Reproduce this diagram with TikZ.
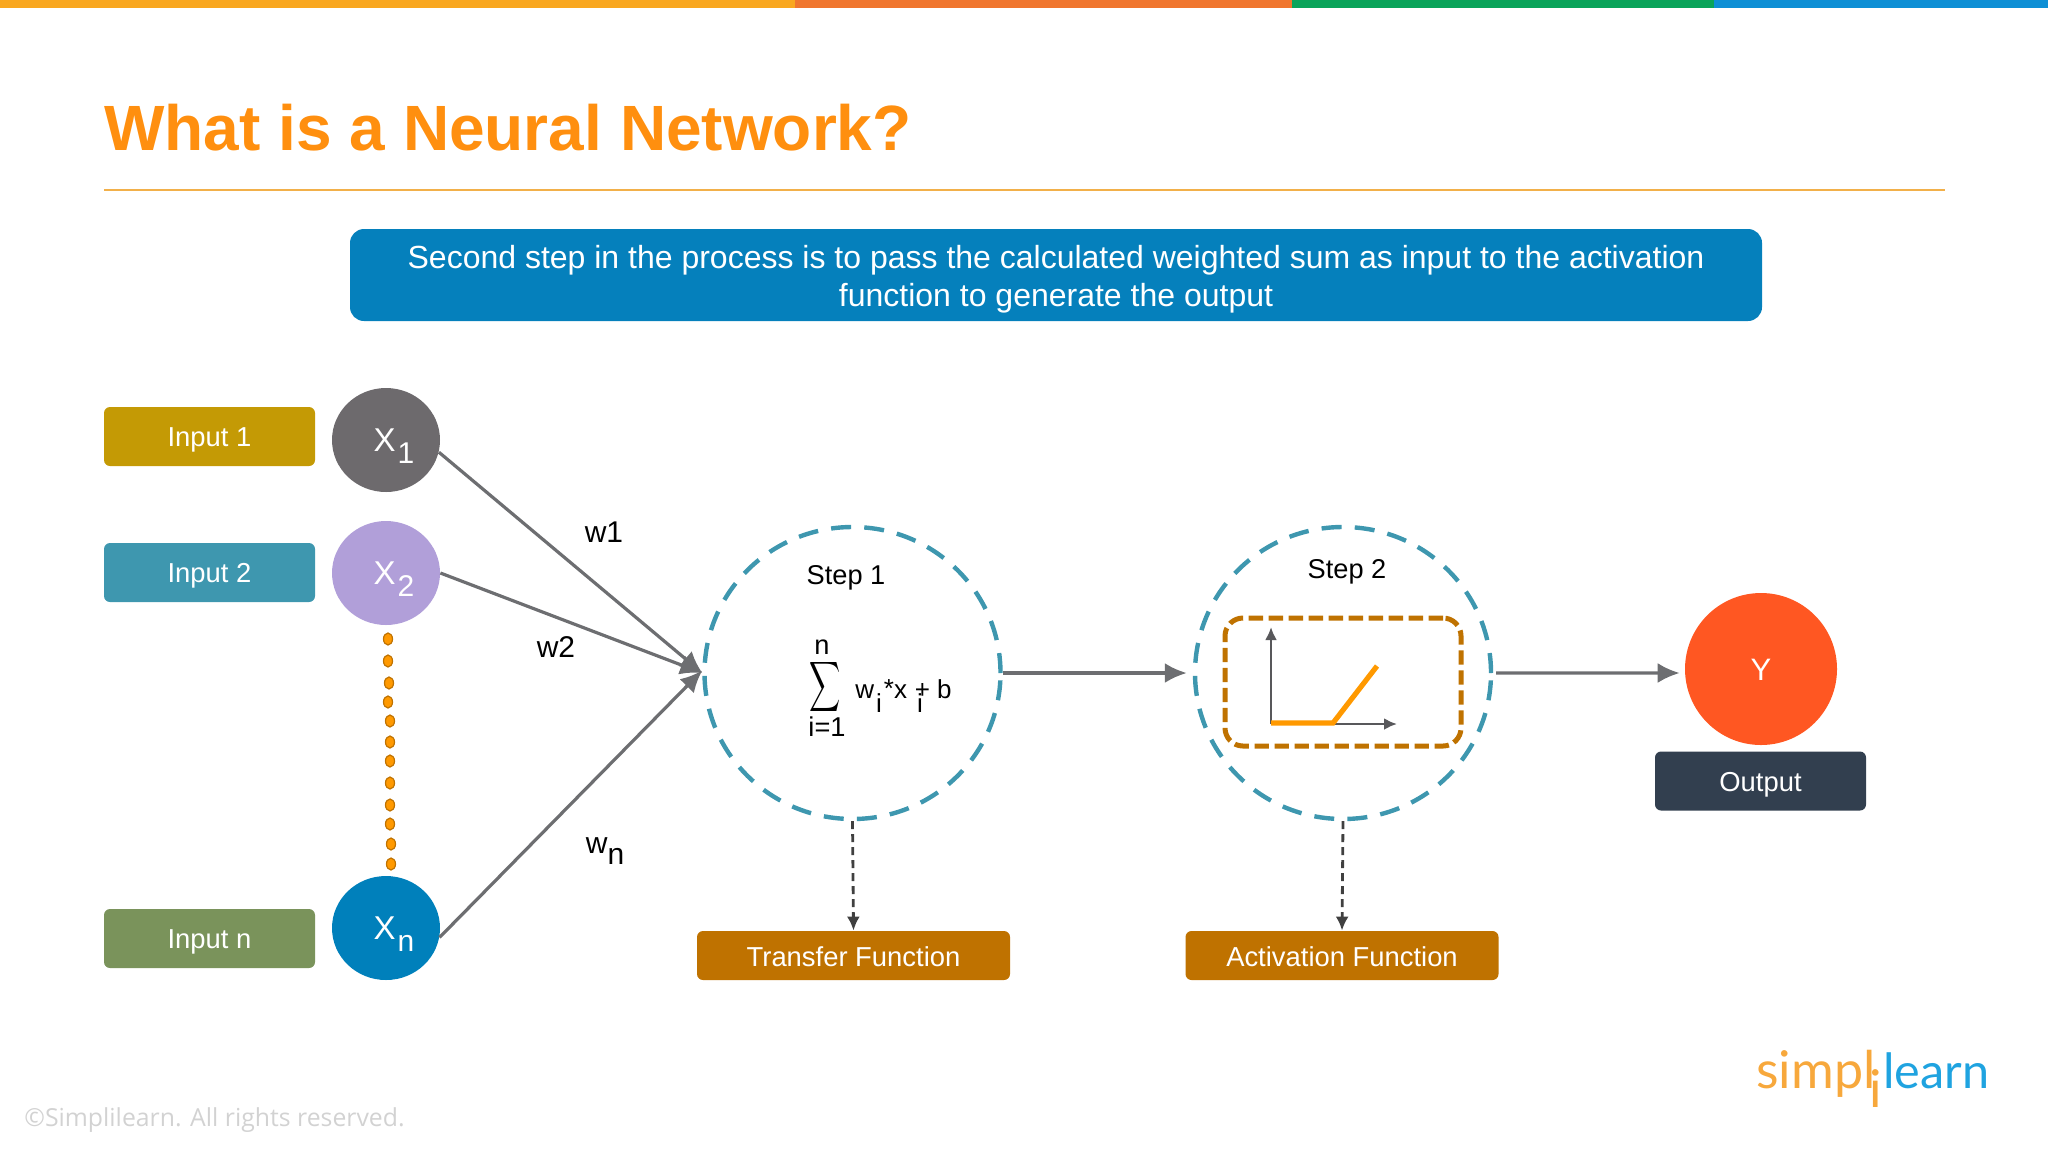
\documentclass[tikz,border=0pt]{standalone}
\usepackage{graphicx}
\usepackage{fontspec}
\setmainfont{Liberation Sans}
\newfontfamily\noticefont{Open Sans}
\newfontfamily\logofont{Lato}
\usetikzlibrary{arrows.meta,positioning,shapes.geometric}
\definecolor{barone}{HTML}{F9A71F}
\definecolor{bartwo}{HTML}{F0762E}
\definecolor{barthree}{HTML}{0AA45A}
\definecolor{barfour}{HTML}{0E8FD5}
\definecolor{titleorange}{HTML}{FF8F0F}
\definecolor{rulegold}{HTML}{F2B04A}
\definecolor{bannerblue}{HTML}{0580BC}
\definecolor{inputgold}{HTML}{C49A05}
\definecolor{inputteal}{HTML}{3E97AF}
\definecolor{inputgreen}{HTML}{7A935B}
\definecolor{nodegrey}{HTML}{6D6A6D}
\definecolor{nodelilac}{HTML}{B19FD9}
\definecolor{nodeblue}{HTML}{0080BB}
\definecolor{nodered}{HTML}{FF5722}
\definecolor{outputnavy}{HTML}{323F4F}
\definecolor{funcbrown}{HTML}{BF7200}
\definecolor{wiregrey}{HTML}{6D6E71}
\definecolor{axisgrey}{HTML}{58585B}
\definecolor{curveorange}{HTML}{FF9900}
\definecolor{noticegrey}{HTML}{D2D2D2}
\definecolor{logoorange}{HTML}{F7A83C}
\definecolor{logoblue}{HTML}{1FA3E0}
\newcommand{\fs}[1]{\fontsize{#1}{#1}\selectfont}
\newcommand{\low}[1]{\raisebox{-.38em}{#1}}
\newcommand{\xname}[1]{\hspace{8pt}X\hspace{1pt}\raisebox{-.36em}{\fs{15}#1}}

\begin{document}
\begin{tikzpicture}[
  x=0.5pt,
  y=-0.5pt,
  >=Latex,
  tag/.style={
    rounded corners=3pt,
    align=center,
    inner sep=0pt,
    text=white,
    font=\fs{13.7},
    minimum width=105.5pt,
    minimum height=29.5pt
  },
  onetag/.style={tag, text height=10pt, text depth=0pt},
  inputtag/.style={onetag, fill=#1},
  functag/.style={onetag, fill=funcbrown, minimum width=156.5pt, minimum height=24.5pt, text height=11.3pt},
  neuron/.style={ellipse, fill=#1, inner sep=0pt, text=white, font=\fs{16.5}, text height=11.5pt, text depth=0pt, minimum width=54pt, minimum height=52pt},
  stepring/.style={ellipse, draw=inputteal, line width=2.2pt, dash pattern=on 10pt off 6.6pt, inner sep=0pt, minimum width=148pt, minimum height=146pt},
  wlabel/.style={font=\fs{15}, inner sep=0pt},
  plain/.style={font=\fs{13.6}, inner sep=0pt},
  edge/.style={->, draw=wiregrey, line width=1.6pt, >={Latex[length=11pt,width=10pt]}},
  softedge/.style={->, draw=black!75, line width=1.4pt, dash pattern=on 4pt off 2.5pt, >={Latex[length=7pt,width=6.5pt]}},
  axis/.style={->, draw=axisgrey, line width=1.3pt, >={Latex[length=6.5pt,width=6pt]}},
  dot/.style={draw=funcbrown, fill=curveorange, line width=0.6pt}
]
  \useasboundingbox (0,0) rectangle (2048,1152);

  \fill[barone] (0,0) rectangle (795,8);
  \fill[bartwo] (795,0) rectangle (1292,8);
  \fill[barthree] (1292,0) rectangle (1714,8);
  \fill[barfour] (1714,0) rectangle (2048,8);

  \node[anchor=west, inner sep=0pt, text=titleorange, font=\fs{32}\bfseries] (title) at (104,128)
    {What is a Neural Network?};
  \draw[rulegold, line width=1pt] (104,190) -- (1945,190);

  \node[tag, fill=bannerblue, rounded corners=7pt, minimum width=706pt, minimum height=46pt, font=\fontsize{16}{19}\selectfont] (banner) at (1056,275)
    {\rule{0pt}{15.6pt}Second step in the process is to pass the calculated weighted sum as input to the activation\\
     function to generate the output};

  \node[inputtag=inputgold] (inputone) at (209.5,436.5) {Input 1};
  \node[inputtag=inputteal] (inputtwo) at (209.5,572.5) {Input 2};
  \node[inputtag=inputgreen] (inputn) at (209.5,938.5) {Input n};

  \node[neuron=nodegrey] (xone) at (386,440) {\xname{1}};
  \node[neuron=nodelilac] (xtwo) at (386,573) {\xname{2}};
  \node[neuron=nodeblue] (xn) at (386,928) {\xname{n}};

  \foreach \dotx/\doty in {388/639,388/661,389/683,388/702,390/721,390/742,390/761,390/783,390/805,390/824,391/844,391/864}
    \draw[dot] (\dotx,\doty) ellipse (4.5 and 6);

  \node[stepring] (stepone) at (852.5,673) {};
  \node[stepring] (steptwo) at (1343,673) {};

  \node[plain] (steponelabel) at (846,578) {Step 1};
  \node[plain] (steptwolabel) at (1347,572) {Step 2};

  \node[inner sep=0pt] (sigma) at (825.5,687) {\scalebox{1.08}[1.75]{$\displaystyle\sum$}};
  \node[plain] (sumtop) at (822,647) {n};
  \node[plain] (sumbottom) at (827,727) {i=1};
  \node[plain, anchor=base west, font=\fs{13}] (sumbody) at (855,698)
    {w\hspace{1pt}\raisebox{-.55em}{i}\hspace{1pt}\raisebox{.02em}{*}x\hspace{5pt}\raisebox{-.55em}{i}\hspace{-4pt}+ b};

  \node[draw=funcbrown, line width=2.5pt, dash pattern=on 7.2pt off 2.8pt, rounded corners=9pt, inner sep=0pt, minimum width=118pt, minimum height=64pt] (curvebox) at (1343,682) {};
  \coordinate (origin) at (1271,724);
  \coordinate (yaxis) at (1271,627);
  \coordinate (xaxis) at (1397,724);
  \coordinate (kink) at (1333,723);
  \coordinate (curveend) at (1377,666);
  \draw[axis] (origin) -- (yaxis);
  \draw[axis] (origin) -- (xaxis);
  \draw[curveorange, line width=2.6pt] (origin |- kink) -- (kink) -- (curveend);

  \node[neuron=nodered, minimum width=76pt, minimum height=76pt, font=\fs{15.5}] (outy) at (1761,669) {Y};
  \node[onetag, fill=outputnavy] (output) at (1760.5,781) {Output};

  \node[functag] (transfer) at (853.5,955.5) {Transfer Function};
  \node[functag] (activation) at (1342,955.5) {Activation Function};

  \node[wlabel] (wone) at (604,532) {w1};
  \node[wlabel] (wtwo) at (556,647) {w2};
  \node[wlabel] (wn) at (605,851) {w\low{n}};

  \draw[edge] (xone.-13) -- (stepone.180);
  \draw[edge] (xtwo.0) -- (stepone.180);
  \draw[edge] (xn.-10) -- (stepone.179);
  \draw[edge, shorten >=3pt] (stepone.east) -- (steptwo.west);
  \draw[edge, shorten <=1.5pt, shorten >=2.5pt] (steptwo.east) -- (outy.183);
  \draw[softedge] (stepone.south) -- (transfer.north);
  \draw[softedge] (steptwo.south) -- (activation.north);

  \node[anchor=west, inner sep=0pt, text=noticegrey, font=\noticefont\fs{12.4}] (notice) at (24,1120)
    {©Simplilearn. All rights reserved.};

  \node[anchor=base west, inner sep=0pt, text=logoorange, font=\logofont\fs{26}] (logoleft) at (1756,1088) {simpl};
  \node[anchor=base, inner sep=0pt, text=logoorange, font=\logofont\fs{26}] (logomid) at (1876,1107) {i};
  \node[anchor=base west, inner sep=0pt, text=logoblue, font=\logofont\fs{24.3}] (logoright) at (1883,1088) {learn};
\end{tikzpicture}
\end{document}
